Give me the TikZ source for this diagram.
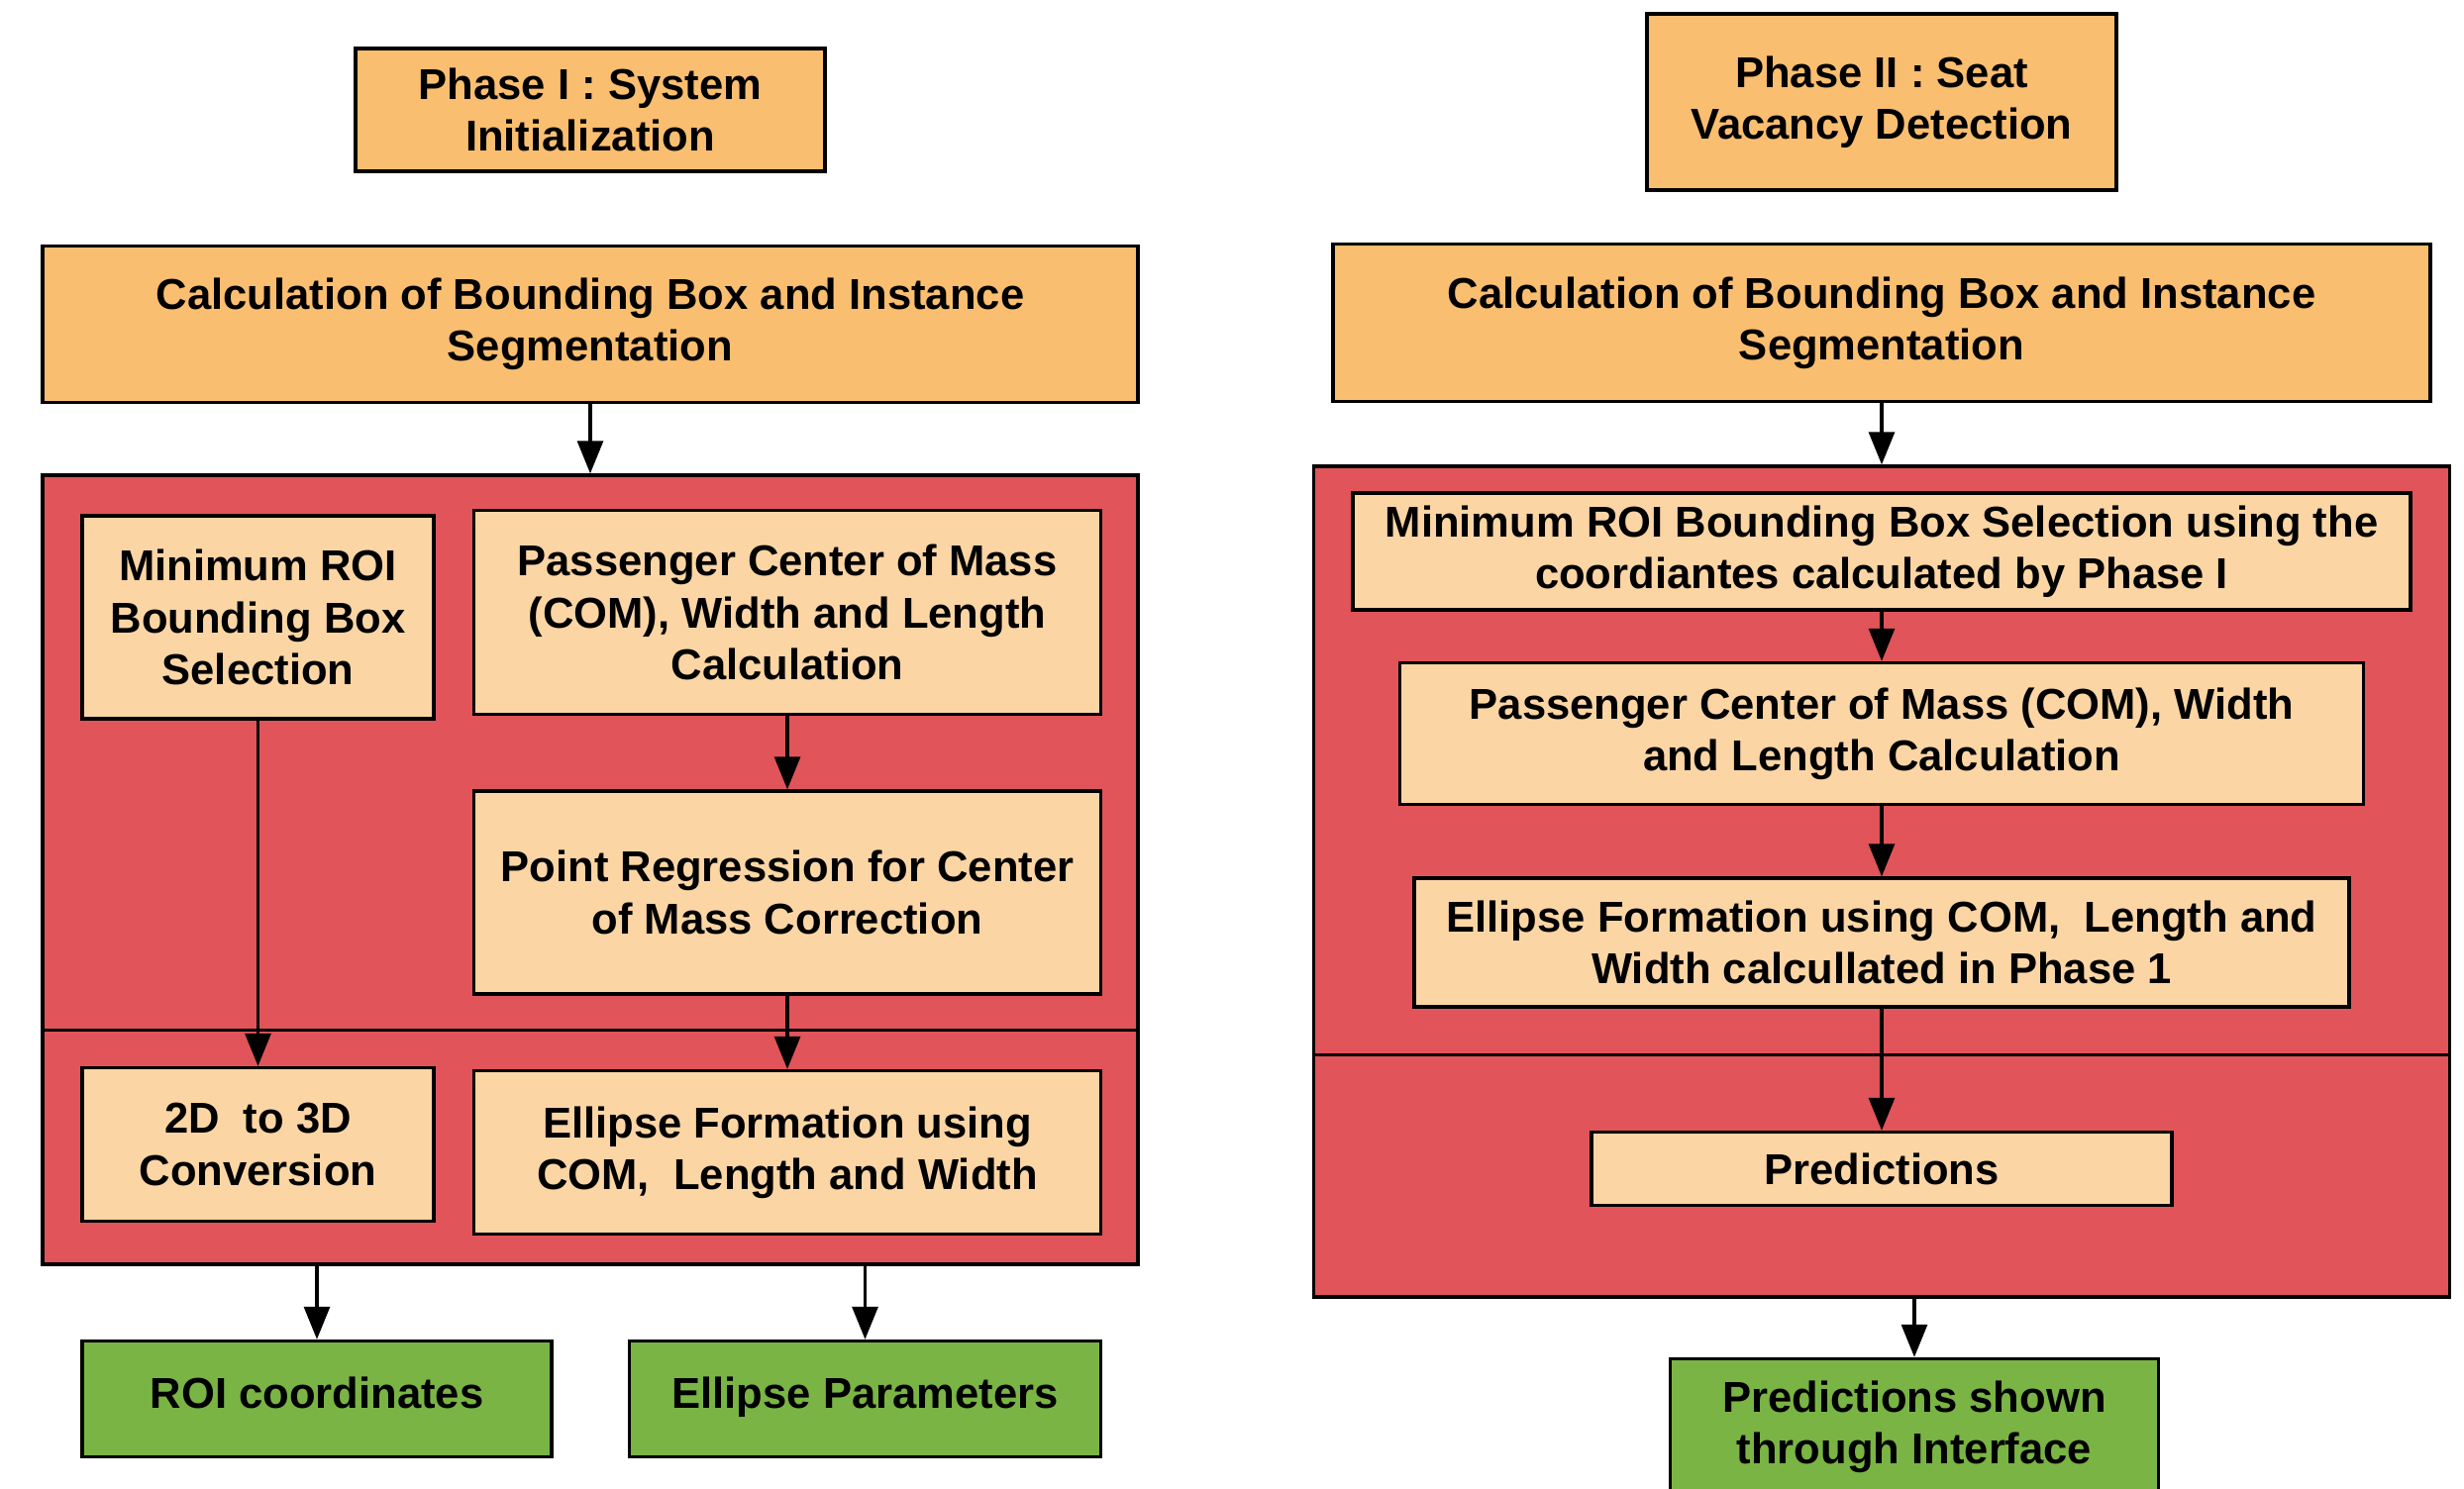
\documentclass[tikz,border=0pt]{standalone}
\usepackage{fontspec}
\setmainfont{Liberation Sans}
\usetikzlibrary{positioning,arrows.meta}

\definecolor{hdrorange}{RGB}{250,190,112}
\definecolor{grpred}{RGB}{224,84,90}
\definecolor{blkpeach}{RGB}{252,213,165}
\definecolor{resgreen}{RGB}{122,180,68}

\begin{document}
\begin{tikzpicture}[>={Triangle[length=3.3mm,width=2.6mm]},
	box/.style={rectangle, draw, line width=1pt, align=center, inner sep=2pt, font=\fontsize{12.4}{14.9}\selectfont\bfseries},
	hdr/.style={box, fill=hdrorange},
	grp/.style={box, fill=grpred},
	blk/.style={box, fill=blkpeach},
	res/.style={box, fill=resgreen}]
	\useasboundingbox (0,0) rectangle (24.88,-15.04);

	% Phase I
	\node [hdr, minimum width=4.74cm, minimum height=1.24cm] (p1) at (5.96,-1.11) {Phase I : System\\Initialization};
	\node [hdr, minimum width=11.06cm, minimum height=1.58cm, below=0.72cm of p1] (calcL) {Calculation of Bounding Box and Instance\\Segmentation};
	\node [grp, minimum width=11.06cm, minimum height=7.97cm, below=0.70cm of calcL] (grpL) {};
	\draw [line width=1pt] ([yshift=-5.62cm]grpL.north west) -- ([yshift=-5.62cm]grpL.north east);
	\node [blk, minimum width=3.55cm, minimum height=2.05cm, below right=0.41cm and 0.40cm of grpL.north west] (roiL) {Minimum ROI\\Bounding Box\\Selection};
	\node [blk, minimum width=6.33cm, minimum height=2.06cm, right=0.37cm of roiL, yshift=0.05cm] (comL) {Passenger Center of Mass\\(COM), Width and Length\\Calculation};
	\node [blk, minimum width=6.33cm, minimum height=2.05cm, below=0.74cm of comL] (regL) {Point Regression for Center\\of Mass Correction};
	\node [blk, minimum width=3.55cm, minimum height=1.55cm, below=3.49cm of roiL] (convL) {2D\ \ to 3D\\Conversion};
	\node [blk, minimum width=6.33cm, minimum height=1.65cm, below=0.74cm of regL] (ellL) {Ellipse Formation using\\COM,\ \ Length and Width};
	\node [res, minimum width=4.74cm, minimum height=1.17cm, text height=0.72em, text depth=0.21em, below right=0.74cm and 0.40cm of grpL.south west] (roiOut) {ROI coordinates};
	\node [res, minimum width=4.76cm, minimum height=1.17cm, text height=0.72em, text depth=0.21em, right=0.75cm of roiOut] (ellOut) {Ellipse Parameters};

	\path[->, line width=0.9pt] (calcL) edge (grpL);
	\path[->, line width=0.9pt] (roiL) edge (convL);
	\path[->, line width=0.9pt] (comL) edge (regL);
	\path[->, line width=0.9pt] (regL) edge (ellL);
	\path[->, line width=0.9pt] (roiOut.north |- grpL.south) edge (roiOut);
	\path[->, line width=0.9pt] (ellOut.north |- grpL.south) edge (ellOut);

	% Phase II
	\node [hdr, minimum width=4.74cm, minimum height=1.78cm] (p2) at (19.00,-1.03) {Phase II : Seat\\Vacancy Detection};
	\node [hdr, minimum width=11.08cm, minimum height=1.59cm, below=0.51cm of p2] (calcR) {Calculation of Bounding Box and Instance\\Segmentation};
	\node [grp, minimum width=11.47cm, minimum height=8.39cm, below=0.62cm of calcR] (grpR) {};
	\draw [line width=1pt] ([yshift=-5.96cm]grpR.north west) -- ([yshift=-5.96cm]grpR.north east);
	\node [blk, minimum width=10.68cm, minimum height=1.18cm, below=0.27cm of grpR.north] (roiR) {Minimum ROI Bounding Box Selection using the\\coordiantes calculated by Phase I};
	\node [blk, minimum width=9.73cm, minimum height=1.43cm, below=0.50cm of roiR] (comR) {Passenger Center of Mass (COM), Width\\and Length Calculation};
	\node [blk, minimum width=9.44cm, minimum height=1.30cm, below=0.71cm of comR] (ellR) {Ellipse Formation using COM,\ \ Length and\\Width calcullated in Phase 1};
	\node [blk, minimum width=5.86cm, minimum height=0.74cm, below=1.23cm of ellR] (predR) {Predictions};
	\node [res, minimum width=4.93cm, minimum height=1.38cm, below=0.59cm of grpR.south, xshift=0.33cm] (outR) {Predictions shown\\through Interface};

	\path[->, line width=0.9pt] (calcR) edge (grpR);
	\path[->, line width=0.9pt] (roiR) edge (comR);
	\path[->, line width=0.9pt] (comR) edge (ellR);
	\path[->, line width=0.9pt] (ellR) edge (predR);
	\path[->, line width=0.9pt] (outR.north |- grpR.south) edge (outR);
\end{tikzpicture}
\end{document}
